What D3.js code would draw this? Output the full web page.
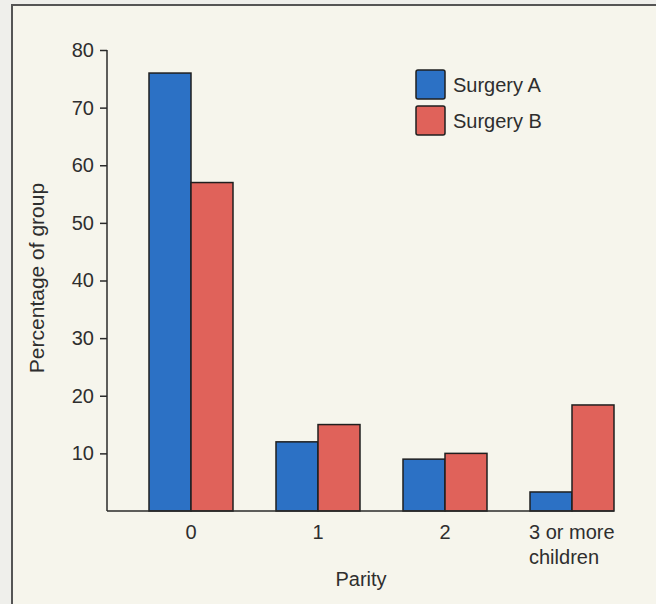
<!DOCTYPE html>
<html><head><meta charset="utf-8">
<script src="https://cdn.jsdelivr.net/npm/d3@7"></script>
<style>
html,body{margin:0;padding:0;background:#efefeb;}
svg{display:block;}
text{font-family:"Liberation Sans",Arial,sans-serif;fill:#2e2e2e;}
</style></head>
<body>
<script>
const categories = ["0", "1", "2", "3 or more children"];
const seriesNames = ["Surgery A", "Surgery B"];
const surgeryA = [76, 12, 9, 3.3];
const surgeryB = [57, 15, 10, 18.4];
const yTicks = [10, 20, 30, 40, 50, 60, 70, 80];
const colors = ["#2c71c5", "#e0625a"];

const W = 656, H = 604, FS = 20;
const svg = d3.select("body").append("svg").attr("width", W).attr("height", H);

// page / frame
svg.append("rect").attr("x", 12).attr("y", 5).attr("width", W - 12).attr("height", H - 5).attr("fill", "#f6f5ec");
svg.append("path").attr("d", `M12,${H} L12,5 L${W},5`).attr("fill", "none").attr("stroke", "#555").attr("stroke-width", 2);

const y = d3.scaleLinear().domain([0, 80]).range([511, 50]);
const x0 = d3.scaleBand().domain(categories).range([127.5, 635.5]).paddingInner(0.3386).paddingOuter(0.1693);
const x1 = d3.scaleBand().domain(seriesNames).range([0, x0.bandwidth()]);
const axisLeftX = 107;

// y axis
const yAxis = d3.axisLeft(y).tickValues(yTicks).tickSize(7).tickPadding(6).tickFormat(d3.format("d"));
const gy = svg.append("g").attr("transform", `translate(${axisLeftX},0)`).call(yAxis);
gy.attr("font-size", FS).attr("font-family", "Liberation Sans, Arial, sans-serif");
gy.select(".domain").remove();
gy.selectAll(".tick line").attr("stroke", "#2a2a2a").attr("stroke-width", 1.5);
gy.selectAll(".tick text").attr("fill", "#2e2e2e");
svg.append("line").attr("x1", axisLeftX).attr("x2", axisLeftX).attr("y1", y(80)).attr("y2", y(0))
  .attr("stroke", "#2a2a2a").attr("stroke-width", 1.5);

// bars
const rows = categories.map((c, i) => ({cat: c, vals: [surgeryA[i], surgeryB[i]]}));
const g = svg.append("g");
rows.forEach(r => {
  r.vals.forEach((v, j) => {
    g.append("rect")
      .attr("x", x0(r.cat) + x1(seriesNames[j]))
      .attr("y", y(v))
      .attr("width", x1.bandwidth())
      .attr("height", y(0) - y(v))
      .attr("fill", colors[j])
      .attr("stroke", "#1f1f1f").attr("stroke-width", 1.5);
  });
});

// baseline
const lastCat = categories[categories.length - 1];
svg.append("line").attr("x1", axisLeftX).attr("x2", x0(lastCat) + x0.bandwidth())
  .attr("y1", y(0)).attr("y2", y(0)).attr("stroke", "#2a2a2a").attr("stroke-width", 1.5);

// x labels
categories.forEach((c, i) => {
  const cx = x0(c) + x0.bandwidth() / 2;
  if (i < categories.length - 1) {
    svg.append("text").attr("x", cx).attr("y", 539).attr("text-anchor", "middle").attr("font-size", FS).text(c);
  } else {
    const lx = x0(c) - 1;
    const t = svg.append("text").attr("x", lx).attr("y", 539).attr("font-size", FS);
    t.append("tspan").attr("x", lx).attr("dy", 0).text("3 or more");
    t.append("tspan").attr("x", lx).attr("dy", 25).text("children");
  }
});

svg.append("text").attr("x", 361).attr("y", 586).attr("text-anchor", "middle").attr("font-size", FS).text("Parity");
svg.append("text").attr("transform", "translate(44,278) rotate(-90)").attr("text-anchor", "middle").attr("font-size", 21).text("Percentage of group");

// legend
seriesNames.forEach((s, j) => {
  const ly = 70 + j * 36;
  svg.append("rect").attr("x", 416).attr("y", ly).attr("width", 29).attr("height", 29).attr("rx", 2)
    .attr("fill", colors[j]).attr("stroke", "#1f1f1f").attr("stroke-width", 1.5);
  svg.append("text").attr("x", 453).attr("y", ly + 22).attr("font-size", FS).text(s);
});
</script>
</body></html>
